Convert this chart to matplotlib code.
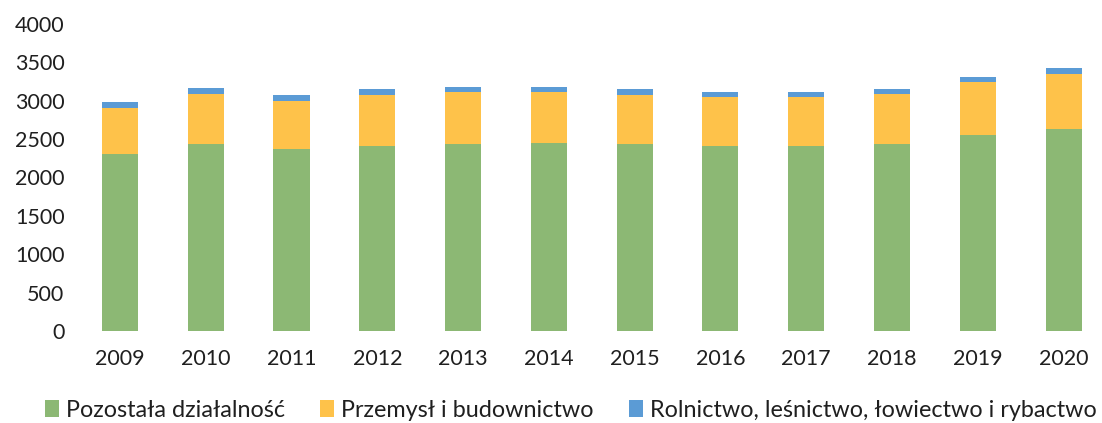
import numpy as np
import matplotlib.pyplot as plt

plt.rcParams['font.family'] = ['Lato', 'DejaVu Sans']

years = ['2009', '2010', '2011', '2012', '2013', '2014',
         '2015', '2016', '2017', '2018', '2019', '2020']
pozostala = [2300, 2440, 2365, 2415, 2440, 2450, 2430, 2415, 2415, 2430, 2550, 2635]
przemysl = [610, 650, 635, 660, 670, 670, 650, 635, 640, 655, 695, 715]
rolnictwo = [78, 78, 78, 78, 73, 65, 73, 69, 65, 64, 64, 73]

labels = ['Pozostała działalność', 'Przemysł i budownictwo',
          'Rolnictwo, leśnictwo, łowiectwo i rybactwo']
colors = ['#8cb874', '#fec24a', '#5b9bd5']

fig = plt.figure(figsize=(11.02, 4.23), dpi=100)
ax = fig.add_axes([0.0699, 0.2175, 0.930, 0.7258])

x = np.arange(len(years))
w = 0.42
b1 = ax.bar(x, pozostala, w, color=colors[0], label=labels[0])
b2 = ax.bar(x, przemysl, w, bottom=pozostala, color=colors[1], label=labels[1])
top2 = np.array(pozostala) + np.array(przemysl)
b3 = ax.bar(x, rolnictwo, w, bottom=top2, color=colors[2], label=labels[2])

ax.set_xlim(-0.5, 11.446)
ax.set_ylim(0, 4000)
ax.set_yticks(np.arange(0, 4001, 500))
ax.set_xticks(x)
ax.set_xticklabels(years)
for s in ax.spines.values():
    s.set_visible(False)
ax.tick_params(axis='both', length=0, labelsize=15.5, colors='#1f1f1f')
ax.tick_params(axis='x', pad=13)
ax.tick_params(axis='y', pad=9)

fig.legend(handles=[b1, b2, b3], labels=labels, loc='center',
           bbox_to_anchor=(0.518, 0.03), ncol=3, frameon=False,
           fontsize=16.8, handlelength=0.6, handleheight=0.7,
           handletextpad=0.3, columnspacing=1.5, labelcolor='#1f1f1f')

fig.savefig('out.png', dpi=100)
